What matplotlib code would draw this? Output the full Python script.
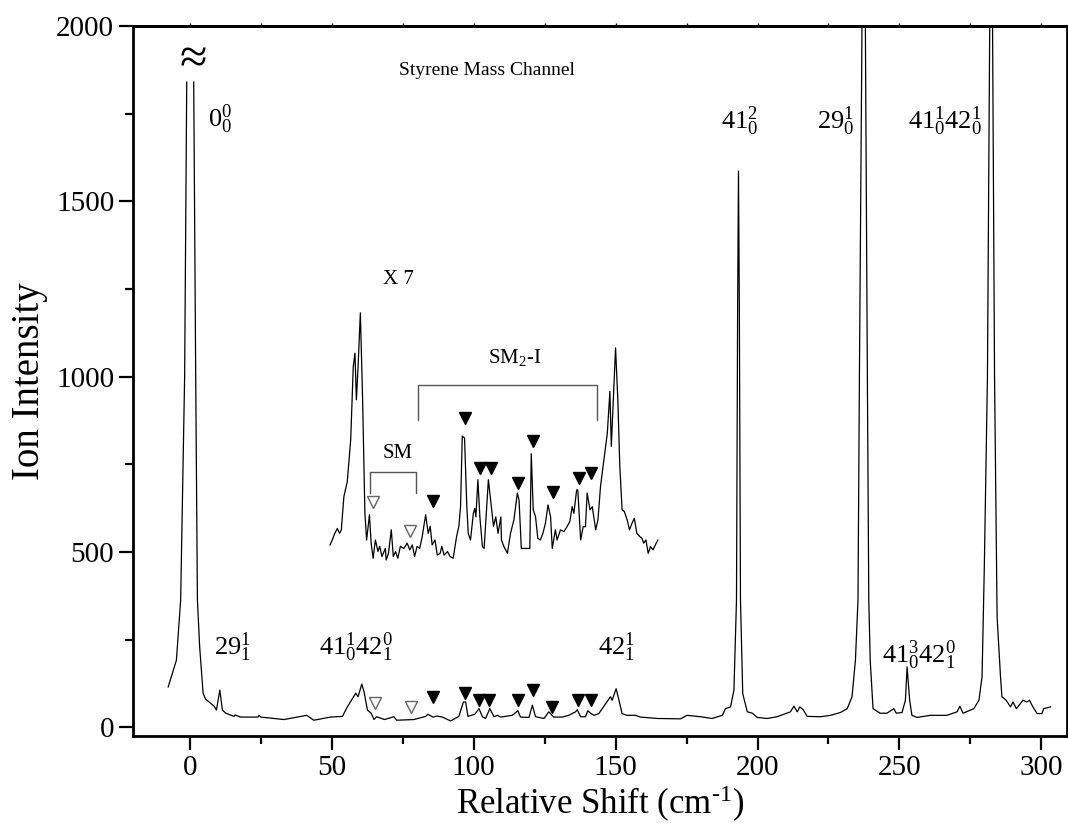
import numpy as np
import matplotlib
matplotlib.use("Agg")
from matplotlib import pyplot as plt
from matplotlib.ticker import MultipleLocator

plt.rcParams['font.family'] = ['Liberation Serif', 'DejaVu Serif']
plt.rcParams['mathtext.fontset'] = 'custom'
plt.rcParams['mathtext.rm'] = 'Liberation Serif'
plt.rcParams['mathtext.it'] = 'Liberation Serif'
plt.rcParams['mathtext.default'] = 'regular'

# main trace, NaN = the broken top of the 0-0 band
shift = [-7.6, -4.7, -3.2, -1.8, -1.06, np.nan, 1.4, 2.1, 2.7, 3.5, 4.7, 5.6, 8.6, 9.4, 10.6, 11.5,
         12.7, 15.6, 16.0, 18.0, 24.0, 24.4, 25.0, 33.2, 41.2, 43.7, 49.6, 53.8, 55.5, 58.5, 59.3,
         60.6, 61.4, 62.6, 63.9, 64.9, 65.8, 68.6, 71.9, 72.9, 79.0, 83.1, 83.9, 85.7, 87.1, 89.0,
         91.9, 94.8, 96.4, 97.2, 98.0, 100.4, 101.9, 103.1, 104.2, 105.7, 107.2, 108.4, 109.5,
         113.6, 115.6, 116.5, 119.5, 120.7, 121.8, 124.8, 126.5, 128.2, 131.2, 133.5, 135.9,
         136.5, 137.7, 139.4, 140.2, 141.2, 142.4, 144.1, 148.2, 148.8, 150.2, 151.2, 152.3,
         154.0, 157.0, 158.8, 164.7, 172.9, 175.2, 179.9, 184.0, 187.6, 188.7, 190.5, 191.7,
         192.6, 193.0, 193.3, 193.6, 194.0, 194.8, 196.4, 198.2, 199.9, 203.4, 206.9, 211.6,
         212.8, 214.0, 214.9, 216.1, 217.5, 222.2, 225.7, 229.2, 231.6, 233.3, 234.5, 235.4,
         235.9, 236.8, 237.4, 238.0, 238.7, 239.2, 239.7, 240.7, 243.2, 245.6, 248.0, 248.9,
         250.9, 252.1, 252.7, 253.6, 254.4, 256.2, 260.9, 266.7, 270.3, 271.3, 272.4, 276.2,
         278.0, 279.1, 279.9, 281.0, 281.8, 282.3, 282.8, 283.5, 284.4, 285.6, 286.1, 287.6,
         289.1, 290.0, 291.2, 293.5, 294.9, 295.8, 297.0, 298.5, 300.2, 300.8, 303.2]
intensity = [115, 191, 363, 1000, 1840, np.nan, 1840, 1000, 363, 229, 97, 80, 60, 49, 106, 49,
             40, 31, 35, 29, 29, 34, 29, 22, 34, 20, 29, 31, 58, 97, 87,
             123, 101, 49, 40, 22, 30, 22, 30, 20, 22, 31, 37, 29, 32, 29,
             18, 31, 72, 72, 31, 37, 53, 30, 25, 53, 30, 34, 29,
             34, 47, 29, 28, 63, 30, 25, 44, 29, 29, 34, 44,
             50, 30, 30, 47, 40, 34, 39, 87, 77, 110, 77, 39,
             34, 34, 29, 25, 24, 34, 30, 25, 34, 53, 58, 106,
             363, 1200, 1586, 1200, 363, 96, 44, 40, 28, 25, 30, 44,
             60, 44, 58, 50, 31, 30, 34, 42, 53, 87, 192, 363,
             1000, 2000, 2600, 2000, 1000, 363, 192, 53, 40, 40, 53, 40,
             42, 77, 172, 77, 34, 28, 34, 34, 44, 60, 40, 53,
             77, 144, 458, 1000, 2000, 2600, 2000, 1000, 315, 144, 87, 77,
             58, 72, 53, 77, 72, 77, 58, 39, 39, 53, 58]

# inset: x7 expanded trace, drawn offset
inset_shift = [49.4, 50.2, 51.1, 52.0, 52.8, 53.4, 54.3, 55.5, 56.7, 57.6, 58.2, 58.7, 59.3, 60.1,
               60.9, 61.7, 62.3, 63.3, 63.9, 64.6, 65.4, 66.3, 66.9, 67.7, 68.9, 69.2, 70.0, 71.0,
               71.7, 72.5, 73.3, 74.2, 75.4, 76.6, 77.5, 78.4, 79.2, 80.1, 81.0, 81.9, 83.1, 84.0,
               84.7, 85.4, 86.4, 87.2, 88.2, 88.8, 89.6, 90.8, 91.7, 92.8, 94.0, 94.8, 95.4, 96.0,
               96.8, 97.6, 98.1, 98.9, 99.9, 100.4, 100.8, 101.5, 102.2, 103.1, 103.7, 104.4, 105.2,
               106.0, 107.0, 107.8, 108.6, 109.6, 109.8, 110.7, 111.9, 113.0, 114.2, 115.4, 116.0,
               116.8, 119.8, 120.3, 121.0, 121.8, 122.6, 123.5, 124.4, 125.3, 126.2, 127.1, 127.7,
               128.8, 129.4, 130.6, 131.8, 132.9, 133.9, 134.7, 135.3, 136.3, 136.7, 137.7, 138.6,
               139.4, 140.0, 141.0, 141.8, 143.0, 143.8, 144.7, 145.9, 147.1, 148.0, 148.5, 149.2,
               150.0, 150.8, 151.5, 152.3, 153.1, 154.1, 154.9, 155.8, 156.6, 157.5, 158.5, 159.3,
               159.9, 160.7, 161.5, 162.3, 163.2, 164.0, 164.9]
inset_intensity = [520, 534, 553, 567, 553, 563, 658, 701, 820, 1029, 1067, 934, 1029, 1182,
                   934, 610, 534, 606, 525, 482, 534, 501, 516, 487, 510, 477, 496, 563,
                   487, 501, 482, 516, 510, 525, 506, 520, 487, 516, 510, 544, 606, 553,
                   573, 520, 534, 491, 496, 516, 491, 501, 487, 482, 544, 573, 630, 830,
                   825, 630, 553, 534, 610, 624, 600, 706, 600, 515, 510, 600, 706,
                   648, 573, 600, 553, 600, 534, 515, 496, 553, 592, 668, 648,
                   510, 510, 780, 620, 601, 539, 534, 553, 582, 634, 601, 510,
                   563, 534, 563, 558, 572, 587, 629, 610, 677, 677, 534, 572,
                   572, 668, 620, 629, 563, 592, 687, 763, 839, 958, 801, 934,
                   1082, 934, 744, 620, 615, 591, 563, 582, 596, 553, 544, 539,
                   525, 534, 496, 515, 506, 520, 534]

# band markers
filled_x = [85.6, 96.8, 101.8, 105.3, 115.8, 120.8, 127.5, 136.6, 141.2]
filled_y = [86, 97, 77, 77, 77, 106, 57, 77, 77]
open_x = [65.1, 77.8]
open_y = [69, 57]
inset_filled_x = [85.6, 96.8, 102.1, 106.0, 115.8, 120.8, 127.8, 137.0, 141.5]
inset_filled_y = [646, 883, 740, 740, 697, 817, 671, 711, 726]
inset_open_x = [64.4, 77.5]
inset_open_y = [643, 560]

band_labels = [r'$0^{0}_{0}$', r'$29^{1}_{1}$', r'$41^{1}_{0}42^{0}_{1}$', r'$42^{1}_{1}$',
               r'$41^{2}_{0}$', r'$29^{1}_{0}$', r'$41^{1}_{0}42^{1}_{0}$', r'$41^{3}_{0}42^{0}_{1}$']
label_x = [6.3, 8.5, 45.4, 143.7, 187.0, 221.0, 253.0, 244.0]
label_y = [1711, 206, 206, 206, 1706, 1706, 1706, 183]

fig = plt.figure(figsize=(10.68, 8.38), dpi=100)
ax = fig.add_axes([0.1245, 0.1217, 0.8745, 0.8473])

ax.plot(shift, intensity, color='black', lw=0.9)
ax.plot(inset_shift, inset_intensity, color='black', lw=0.9)

ax.plot(filled_x, filled_y, 'v', color='black', ms=9, ls='none')
ax.plot(open_x, open_y, 'v', mfc='white', mec='#666666', mew=1, ms=9, ls='none')
ax.plot(inset_filled_x, inset_filled_y, 'v', color='black', ms=9, ls='none')
ax.plot(inset_open_x, inset_open_y, 'v', mfc='white', mec='#666666', mew=1, ms=9, ls='none')

# brackets
ax.plot([80.3, 80.3, 143.3, 143.3], [877, 977, 977, 877], color='#555555', lw=1)
ax.plot([63.4, 63.4, 79.6, 79.6], [669, 729, 729, 669], color='#555555', lw=1)

for t, x, y in zip(band_labels, label_x, label_y):
    ax.text(x, y, t, fontsize=19, ha='left', va='baseline')

ax.text(68, 1263, 'X 7', fontsize=15, va='baseline')
ax.text(105, 1040, r'$SM_{2}$-I', fontsize=15, va='baseline')
ax.text(68, 768, 'SM', fontsize=15, va='baseline')
ax.text(73.6, 1860, 'Styrene Mass Channel', fontsize=14, va='baseline')
ax.text(1.4, 1900, '\u2248', fontsize=36, ha='center', va='center')

ax.set_xlim(-20, 309)
ax.set_ylim(-25, 2000)
ax.xaxis.set_major_locator(MultipleLocator(50))
ax.xaxis.set_minor_locator(MultipleLocator(25))
ax.yaxis.set_major_locator(MultipleLocator(500))
ax.yaxis.set_minor_locator(MultipleLocator(250))
ax.tick_params(which='major', direction='out', length=10, width=1.6, labelsize=21)
ax.tick_params(which='minor', direction='out', length=6, width=1.6)
for s in ax.spines.values():
    s.set_linewidth(2)

# tiny ticks along the top frame
top = ax.secondary_xaxis('top')
top.xaxis.set_major_locator(MultipleLocator(25))
top.tick_params(direction='out', length=2.5, width=1, labelsize=0, labeltop=False)
top.spines['top'].set_linewidth(2)

ax.set_xlabel(r'Relative Shift (cm$^{\text{-1}}$)', fontsize=25, labelpad=2)
ax.set_ylabel('Ion Intensity', fontsize=28, labelpad=6)

plt.savefig('out.png', dpi=100)
